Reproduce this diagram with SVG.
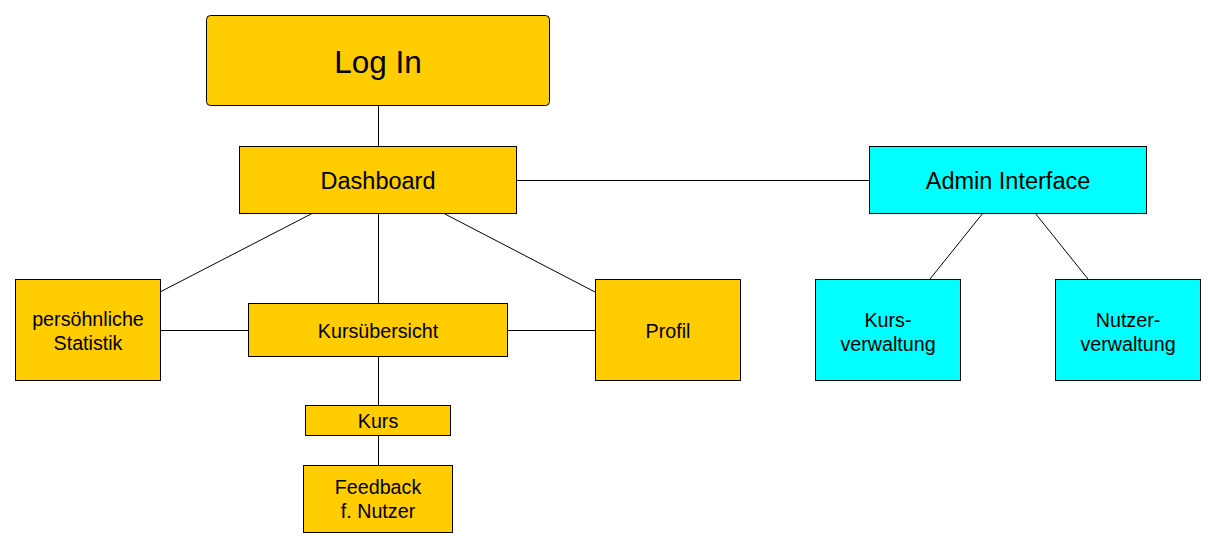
<svg xmlns="http://www.w3.org/2000/svg" width="1216" height="547" viewBox="0 0 1216 547">
<style>
.y{fill:#FFCC00;stroke:#000;stroke-width:1}
.c{fill:#00FFFF;stroke:#000;stroke-width:1}
text{font-family:"Liberation Sans",Arial,sans-serif;fill:#000;text-anchor:middle}
.s{font-size:19.7px}
.m{font-size:23.5px}
.l{font-size:31.5px}
#connectors line{stroke:#000;stroke-width:1}
</style>
<rect width="1216" height="547" fill="#fff"/>
<g id="connectors">
<line x1="378.5" y1="105" x2="378.5" y2="146"/>
<line x1="516" y1="180.5" x2="869" y2="180.5"/>
<line x1="313" y1="213" x2="160" y2="292"/>
<line x1="378.5" y1="213" x2="378.5" y2="303"/>
<line x1="443" y1="213" x2="595" y2="292"/>
<line x1="160" y1="330.5" x2="248" y2="330.5"/>
<line x1="507" y1="330.5" x2="595" y2="330.5"/>
<line x1="378.5" y1="356" x2="378.5" y2="405"/>
<line x1="378.5" y1="435" x2="378.5" y2="465"/>
<line x1="983" y1="213" x2="930" y2="279"/>
<line x1="1035" y1="213" x2="1088" y2="279"/>
</g>
<g id="login"><rect class="y" x="206.5" y="15.5" width="343" height="90" rx="4" stroke="#222"/><text class="l" x="378" y="73">Log In</text></g>
<g id="dashboard"><rect class="y" x="239.5" y="146.5" width="277" height="67"/><text class="m" x="378" y="189">Dashboard</text></g>
<g id="admin"><rect class="c" x="869.5" y="146.5" width="277" height="67"/><text class="m" x="1008" y="189">Admin Interface</text></g>
<g id="statistik"><rect class="y" x="15.5" y="279.5" width="145" height="101"/><text class="s" x="88" y="326">persöhnliche</text><text class="s" x="88" y="350">Statistik</text></g>
<g id="kursuebersicht"><rect class="y" x="248.5" y="303.5" width="259" height="53"/><text class="s" x="378" y="337.5">Kursübersicht</text></g>
<g id="profil"><rect class="y" x="595.5" y="279.5" width="145" height="101"/><text class="s" x="668" y="337.5">Profil</text></g>
<g id="kurs"><rect class="y" x="305.5" y="405.5" width="145" height="30"/><text class="s" x="378" y="427.5">Kurs</text></g>
<g id="feedback"><rect class="y" x="303.5" y="465.5" width="149" height="67"/><text class="s" x="378" y="493.5">Feedback</text><text class="s" x="378" y="518">f. Nutzer</text></g>
<g id="kursverwaltung"><rect class="c" x="815.5" y="279.5" width="145" height="101"/><text class="s" x="888" y="326.5">Kurs-</text><text class="s" x="888" y="350.5">verwaltung</text></g>
<g id="nutzerverwaltung"><rect class="c" x="1055.5" y="279.5" width="145" height="101"/><text class="s" x="1128" y="326.5">Nutzer-</text><text class="s" x="1128" y="350.5">verwaltung</text></g>
</svg>
